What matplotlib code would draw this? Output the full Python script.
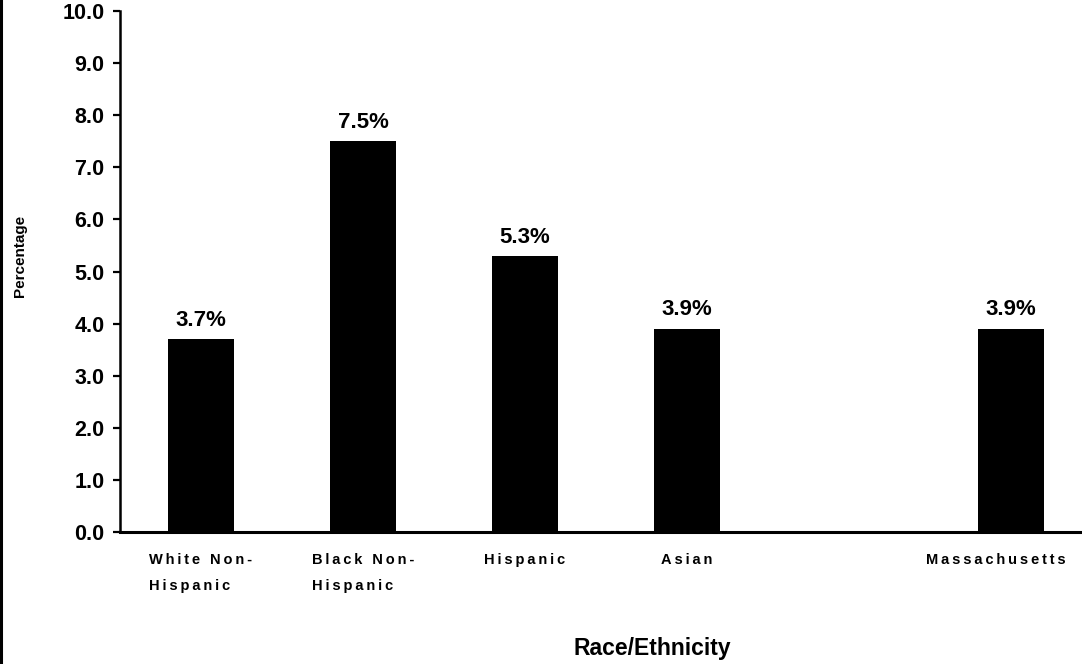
import matplotlib
matplotlib.use("Agg")
import matplotlib.pyplot as plt
import matplotlib.transforms as mtransforms
from matplotlib.lines import Line2D
import numpy as np

plt.rcParams['font.family'] = ['Liberation Sans', 'DejaVu Sans']

categories = ["White Non-\nHispanic", "Black Non-\nHispanic", "Hispanic", "Asian", "Massachusetts"]
values = [3.7, 7.5, 5.3, 3.9, 3.9]
positions = [0, 1, 2, 3, 5]
yticks = [0, 1, 2, 3, 4, 5, 6, 7, 8, 9, 10]


def spaced(s):
    return "\n".join("\u2009".join(line) for line in s.split("\n"))


fig = plt.figure(figsize=(10.82, 6.64), dpi=100)
ax = fig.add_axes([120 / 1082, 132 / 664, 1 - 120 / 1082, 521 / 664])

ax.bar(positions, values, width=0.41, color="black")
for x, v in zip(positions, values):
    ax.annotate(f"{v:.1f}%", (x, v), xytext=(0, 6), textcoords="offset points",
                ha="center", va="bottom", fontsize=16, fontweight="bold")

ax.set_xlim(-0.5, 5.438)
ax.set_ylim(0, 10)
ax.set_yticks(yticks)
ax.set_yticklabels([f"{t:.1f}" for t in yticks], fontsize=15.5, fontweight="bold")
ax.set_xticks(positions)
ax.set_xticklabels([spaced(c) for c in categories], fontsize=10.5, fontweight="bold",
                   multialignment="left", linespacing=2.1)

ax.tick_params(axis="y", direction="out", length=5, width=1.6, pad=6)
ax.tick_params(axis="x", length=0, pad=15)

# nudge the last category label slightly left, as in the original
last = ax.get_xticklabels()[-1]
last.set_transform(last.get_transform() +
                   mtransforms.ScaledTranslation(-0.15, 0, fig.dpi_scale_trans))

for s in ["top", "right"]:
    ax.spines[s].set_visible(False)
ax.spines["left"].set_linewidth(1.8)
ax.spines["bottom"].set_linewidth(2.2)

ax.set_ylabel("Percentage", fontsize=11, fontweight="bold", va="center")
ax.yaxis.set_label_coords(-0.104, 0.53)
ax.set_xlabel("Race/Ethnicity", fontsize=16.5, fontweight="bold", va="center")
ax.xaxis.set_label_coords(0.553, -0.223)

fig.add_artist(Line2D([0.0012, 0.0012], [0, 1], color="black", linewidth=2.2,
                      transform=fig.transFigure))

fig.savefig("out.png", dpi=100)
